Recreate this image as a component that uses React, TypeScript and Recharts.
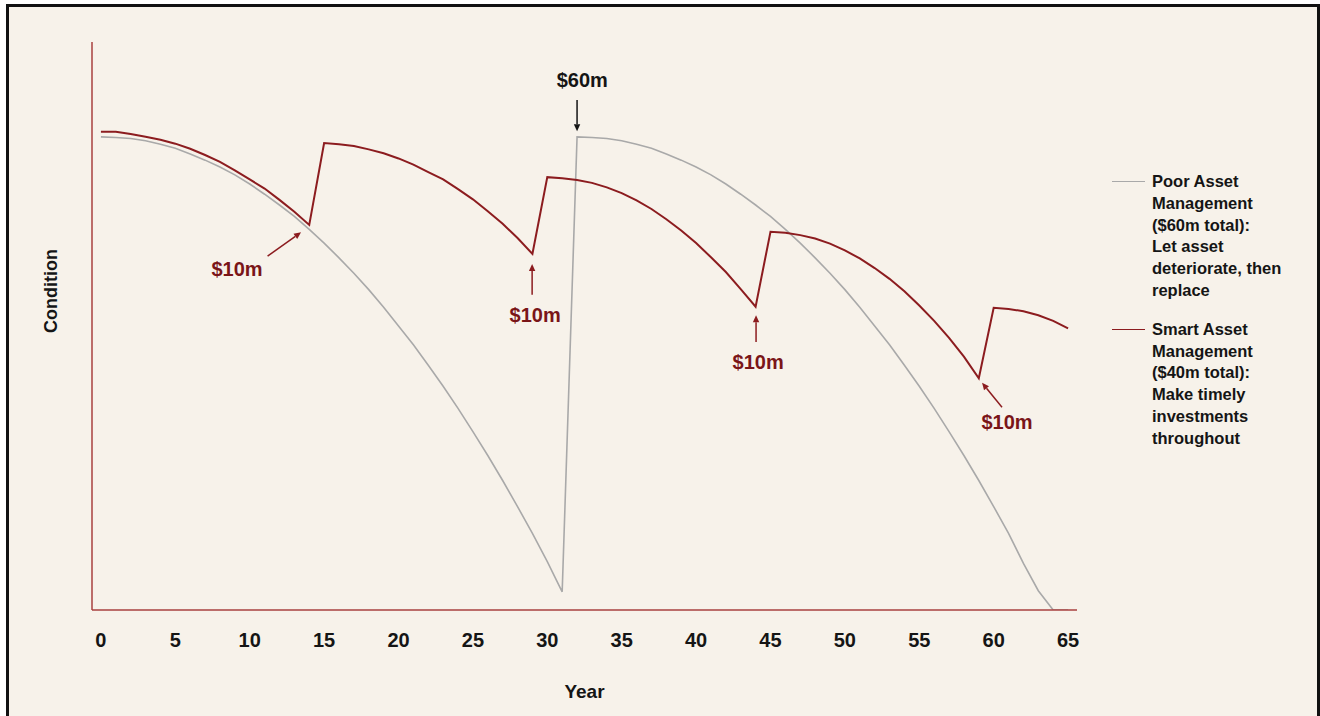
import React from "react";
import { LineChart, Line, XAxis, YAxis, ReferenceLine, ReferenceDot, Legend } from "recharts";

const FONT = "'Liberation Sans', Arial, Helvetica, sans-serif";
const RED = "#8c1c1f";
const RED_TEXT = "#7a1518";
const GREY = "#a9a9a9";
const AXIS = "#a8403f";
const INK = "#151515";

const years = [
  0, 1, 2, 3, 4, 5, 6, 7, 8, 9, 10, 11, 12, 13, 14, 15, 16, 17, 18, 19, 20, 21, 22,
  23, 24, 25, 26, 27, 28, 29, 30, 31, 32, 33, 34, 35, 36, 37, 38, 39, 40, 41, 42, 43,
  44, 45, 46, 47, 48, 49, 50, 51, 52, 53, 54, 55, 56, 57, 58, 59, 60, 61, 62, 63, 64, 65,
];

// let it run down, replace at year 32
const poorCondition = [
  83.3, 83.2, 83.0, 82.6, 82.0, 81.3, 80.3, 79.2, 78.0, 76.6, 75.0, 73.2, 71.3, 69.3, 67.0, 64.6,
  62.0, 59.3, 56.4, 53.3, 50.0, 46.7, 43.1, 39.4, 35.5, 31.4, 27.2, 22.8, 18.2, 13.5, 8.5, 3.2,
  83.3, 83.2, 83.0, 82.6, 82.0, 81.3, 80.3, 79.2, 78.0, 76.6, 75.0, 73.2, 71.3, 69.3, 67.0, 64.6,
  62.0, 59.3, 56.4, 53.3, 50.0, 46.7, 43.1, 39.4, 35.5, 31.4, 27.2, 22.8, 18.2, 13.5, 8.2, 3.4,
  0, 0,
];

// $10m top-up every 15 years
const smartCondition = [
  84.2, 84.2, 83.8, 83.3, 82.8, 82.1, 81.2, 80.1, 78.9, 77.4, 75.8, 74.2, 72.2, 70.1, 67.8,
  82.2, 82.0, 81.7, 81.1, 80.4, 79.5, 78.4, 77.1, 75.8, 74.1, 72.3, 70.2, 68.0, 65.5, 62.7,
  76.2, 76.0, 75.7, 75.2, 74.4, 73.4, 72.1, 70.6, 68.8, 66.8, 64.6, 62.1, 59.5, 56.5, 53.4,
  66.6, 66.4, 66.0, 65.4, 64.5, 63.3, 61.9, 60.2, 58.3, 56.1, 53.6, 50.9, 47.9, 44.6, 40.8,
  53.2, 53.0, 52.6, 51.9, 50.9, 49.6,
];

const yearTicks = [0, 5, 10, 15, 20, 25, 30, 35, 40, 45, 50, 55, 60, 65];

const poorName = "Poor Asset\nManagement\n($60m total):\nLet asset\ndeteriorate, then\nreplace";
const smartName = "Smart Asset\nManagement\n($40m total):\nMake timely\ninvestments\nthroughout";

// callouts in chart units: label spot, arrow tail, arrow head
const investmentNotes = [
  { text: "$10m", at: [9.15, 60.0], from: [11.2, 62.3], to: [13.45, 66.5] },
  { text: "$10m", at: [29.18, 51.9], from: [28.98, 55.5], to: [28.98, 60.9] },
  { text: "$10m", at: [44.17, 43.7], from: [44.03, 47.2], to: [44.03, 51.9] },
  { text: "$10m", at: [60.9, 33.1], from: [60.56, 35.7], to: [59.22, 40.0] },
];
const replaceNote = { text: "$60m", at: [32.35, 93.3], from: [32.0, 89.8], to: [32.0, 84.3] };

const data = years.map((year, i) => ({
  year,
  poor: poorCondition[i],
  smart: smartCondition[i],
}));

function Arrow(props: any) {
  const { x1, y1, x2, y2, color } = props;
  if (x1 == null || y1 == null) return null;
  const a = Math.atan2(y2 - y1, x2 - x1);
  const len = 7;
  const w = 3.2;
  const bx = x2 - len * Math.cos(a);
  const by = y2 - len * Math.sin(a);
  const pts = `${x2},${y2} ${bx - w * Math.sin(a)},${by + w * Math.cos(a)} ${bx + w * Math.sin(a)},${by - w * Math.cos(a)}`;
  return (
    <g>
      <line x1={x1} y1={y1} x2={bx} y2={by} stroke={color} strokeWidth={1.5} />
      <polygon points={pts} fill={color} />
    </g>
  );
}

function LegendBox({ payload }: any) {
  return (
    <div style={{ fontFamily: FONT, fontWeight: 700, fontSize: 16.5, lineHeight: "21.8px", color: INK }}>
      {(payload || []).map((entry: any, i: number) => (
        <div key={i} style={{ display: "flex", alignItems: "flex-start", marginBottom: 17 }}>
          <div
            style={{
              width: 33,
              height: 0,
              borderTop: `1.5px solid ${entry.color}`,
              marginTop: 10.2,
              marginRight: 7,
              flex: "none",
            }}
          />
          <div style={{ whiteSpace: "pre-line" }}>{entry.value}</div>
        </div>
      ))}
    </div>
  );
}

const yLabel = (props: any) => {
  const vb = props.viewBox || {};
  const x = (vb.x ?? 52) - 1;
  const y = 291;
  return (
    <text
      x={x}
      y={y}
      transform={`rotate(-90, ${x}, ${y})`}
      textAnchor="middle"
      dominantBaseline="central"
      fill={INK}
      fontFamily={FONT}
      fontWeight={700}
      fontSize={18}
    >
      Condition
    </text>
  );
};

const xLabel = (props: any) => {
  const vb = props.viewBox || {};
  return (
    <text
      x={(vb.x ?? 92) + (vb.width ?? 985) / 2}
      y={(vb.y ?? 610) + 81}
      textAnchor="middle"
      dominantBaseline="central"
      fill={INK}
      fontFamily={FONT}
      fontWeight={700}
      fontSize={19}
    >
      Year
    </text>
  );
};

function noteLabel(text: string, color: string) {
  return { value: text, position: "center" as const, fill: color, fontSize: 20, fontWeight: 700, fontFamily: FONT };
}

export default function App() {
  return (
    <div style={{ position: "fixed", left: 0, top: 0, width: 1320, height: 716, background: "#fff", overflow: "hidden" }}>
      <div
        style={{
          position: "absolute",
          left: 6,
          top: 4,
          width: 1314,
          height: 740,
          boxSizing: "border-box",
          border: "3px solid #111",
          borderBottom: "none",
          background: "#f7f2ea",
        }}
      />
      <div style={{ position: "absolute", left: 0, top: 0 }}>
        <LineChart width={1320} height={716} data={data} margin={{ top: 42, right: 243, bottom: 46, left: 52 }}>
          <XAxis
            dataKey="year"
            type="number"
            domain={[-0.6, 65.6]}
            allowDataOverflow
            ticks={yearTicks}
            interval={0}
            tickLine={false}
            tickSize={6}
            tickMargin={17}
            height={60}
            axisLine={{ stroke: AXIS, strokeWidth: 1.5 }}
            tick={{ fill: INK, fontSize: 20, fontWeight: 700, fontFamily: FONT }}
            label={xLabel}
          />
          <YAxis
            type="number"
            domain={[0, 100]}
            allowDataOverflow
            width={40}
            tick={false}
            tickLine={false}
            axisLine={{ stroke: AXIS, strokeWidth: 1.5 }}
            label={yLabel}
          />
          <Legend
            layout="vertical"
            align="center"
            verticalAlign="middle"
            content={(p: any) => <LegendBox {...p} />}
            wrapperStyle={{ left: 1112, top: 171, width: 200, height: "auto" }}
          />
          <Line
            type="linear"
            dataKey="poor"
            name={poorName}
            stroke={GREY}
            strokeWidth={1.6}
            dot={false}
            activeDot={false}
            isAnimationActive={false}
          />
          <Line
            type="linear"
            dataKey="smart"
            name={smartName}
            stroke={RED}
            strokeWidth={2}
            dot={false}
            activeDot={false}
            isAnimationActive={false}
          />
          {investmentNotes.map((n, i) => (
            <ReferenceLine
              key={`arrow-${i}`}
              segment={[
                { x: n.from[0], y: n.from[1] },
                { x: n.to[0], y: n.to[1] },
              ]}
              stroke={RED}
              shape={(p: any) => <Arrow {...p} color={RED} />}
            />
          ))}
          {investmentNotes.map((n, i) => (
            <ReferenceDot
              key={`note-${i}`}
              x={n.at[0]}
              y={n.at[1]}
              r={0}
              fill="none"
              stroke="none"
              label={noteLabel(n.text, RED_TEXT)}
            />
          ))}
          <ReferenceLine
            segment={[
              { x: replaceNote.from[0], y: replaceNote.from[1] },
              { x: replaceNote.to[0], y: replaceNote.to[1] },
            ]}
            stroke={INK}
            shape={(p: any) => <Arrow {...p} color={INK} />}
          />
          <ReferenceDot
            x={replaceNote.at[0]}
            y={replaceNote.at[1]}
            r={0}
            fill="none"
            stroke="none"
            label={noteLabel(replaceNote.text, INK)}
          />
        </LineChart>
      </div>
    </div>
  );
}
